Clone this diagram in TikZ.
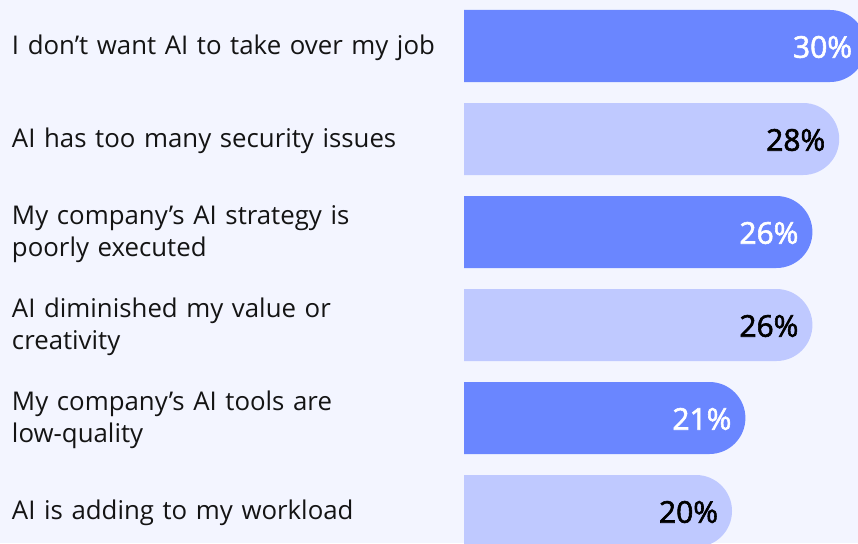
\documentclass[tikz,border=0pt]{standalone}
\usepackage{fontspec}
\setmainfont{Open Sans}
\usepackage{tikz}
\usetikzlibrary{calc,positioning,shapes.misc}

\definecolor{bgcol}{HTML}{F3F5FF}
\definecolor{darkcol}{HTML}{6A86FF}
\definecolor{lightcol}{HTML}{BFC9FF}
\definecolor{inkcol}{HTML}{141414}

\begin{document}
\begin{tikzpicture}[x=1pt,y=-1pt]

  % Parameters
  \def\rowsep{93}
  \def\pctw{13.4}

  % Styles
  \tikzstyle{every node}=[inner sep=0pt,outer sep=0pt]
  \tikzstyle{reasontext}=[anchor=west,text width=440pt,align=left,text=inkcol,font=\fontsize{25.8}{32}\selectfont]
  \tikzstyle{barbox}=[rounded rectangle,rounded rectangle west arc=none,anchor=west,minimum height=72pt]
  \tikzstyle{darkbar}=[barbox,fill=darkcol]
  \tikzstyle{lightbar}=[barbox,fill=lightcol]
  \tikzstyle{pct}=[anchor=east,font=\fontsize{30}{34}\selectfont\addfontfeatures{FakeBold=2}]

  % \reason{<id>}{<row>}{<percent>}{<bar style>}{<pct colour>}{<label>}
  \newcommand{\reason}[6]{%
    \node[reasontext] (text-#1) at (12,{48+\rowsep*#2}) {#6};
    \node[#4,minimum width={\pctw*#3}] (bar-#1) at (464,{46+\rowsep*#2}) {};
    \node[pct,text=#5] (pct-#1) at ($(bar-#1.east)+(-14,1)$) {#3\%};
  }

  % ===========================================================================

  % Background
  \useasboundingbox (0,0) rectangle (858,543);
  \fill[bgcol] (0,0) rectangle (858,543);
  \clip (0,0) rectangle (858,543);

  % Draw rows
  \reason{0}{0}{30}{darkbar}{white}{I don’t want AI to take over my job}
  \reason{1}{1}{28}{lightbar}{black}{AI has too many security issues}
  \reason{2}{2}{26}{darkbar}{white}{My company’s AI strategy is\\poorly executed}
  \reason{3}{3}{26}{lightbar}{black}{AI diminished my value or\\creativity}
  \reason{4}{4}{21}{darkbar}{white}{My company’s AI tools are\\low-quality}
  \reason{5}{5}{20}{lightbar}{black}{AI is adding to my workload}

\end{tikzpicture}
\end{document}
